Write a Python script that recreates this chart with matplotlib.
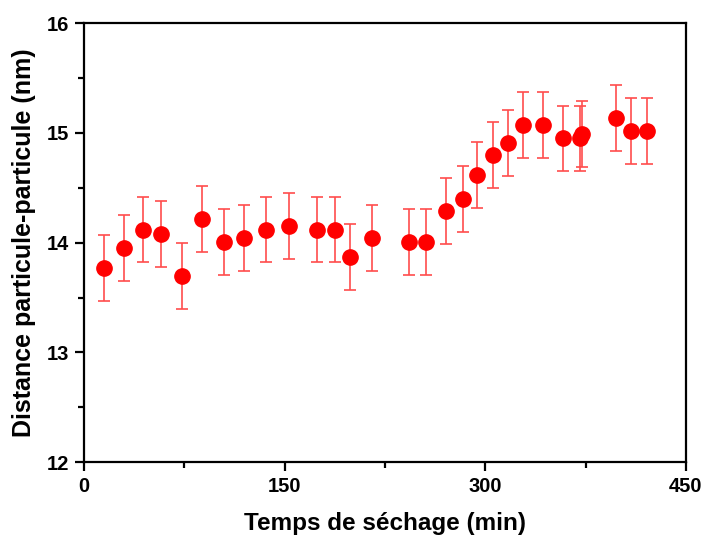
import matplotlib
matplotlib.use("Agg")
import matplotlib.pyplot as plt
from matplotlib.ticker import MultipleLocator

# drying time (min) and particle-particle distance (nm)
temps = [15, 30, 44, 58, 73, 88, 105, 120, 136, 153, 174, 188, 199, 215,
         243, 256, 271, 283, 294, 306, 317, 328, 343, 358, 371, 372, 398, 409, 421]
distance = [13.77, 13.95, 14.12, 14.08, 13.70, 14.22, 14.01, 14.04, 14.12, 14.15,
            14.12, 14.12, 13.87, 14.04,
            14.01, 14.01, 14.29, 14.40, 14.62, 14.80, 14.91, 15.07, 15.07, 14.95,
            14.95, 14.99, 15.14, 15.02, 15.02]
erreur = [0.3] * len(distance)

plt.rcParams['font.family'] = ['Liberation Sans', 'DejaVu Sans']
plt.rcParams['font.weight'] = 'bold'

fig = plt.figure(figsize=(7.05, 5.4), dpi=100)
ax = fig.add_axes([0.119, 0.144, 0.854, 0.813])

ax.errorbar(temps, distance, yerr=erreur, fmt='o', color='red', markersize=11,
            ecolor='#ff4d4d', elinewidth=1.2, capsize=4.5, capthick=1.2, zorder=3)

ax.set_xlim(0, 450)
ax.set_ylim(12, 16)
ax.xaxis.set_major_locator(MultipleLocator(150))
ax.xaxis.set_minor_locator(MultipleLocator(75))
ax.yaxis.set_major_locator(MultipleLocator(1))
ax.yaxis.set_minor_locator(MultipleLocator(0.5))

for s in ax.spines.values():
    s.set_linewidth(1.6)
ax.tick_params(which='major', direction='out', length=6.5, width=1.6, labelsize=14.5, pad=4)
ax.tick_params(which='minor', direction='out', length=4, width=1.6)
for lab in ax.get_xticklabels() + ax.get_yticklabels():
    lab.set_fontweight('bold')

ax.set_xlabel('Temps de séchage (min)', fontsize=17.5, fontweight='bold', labelpad=12)
ax.set_ylabel('Distance particule-particule (nm)', fontsize=18, fontweight='bold', labelpad=8)

fig.savefig('out.png', dpi=100)
